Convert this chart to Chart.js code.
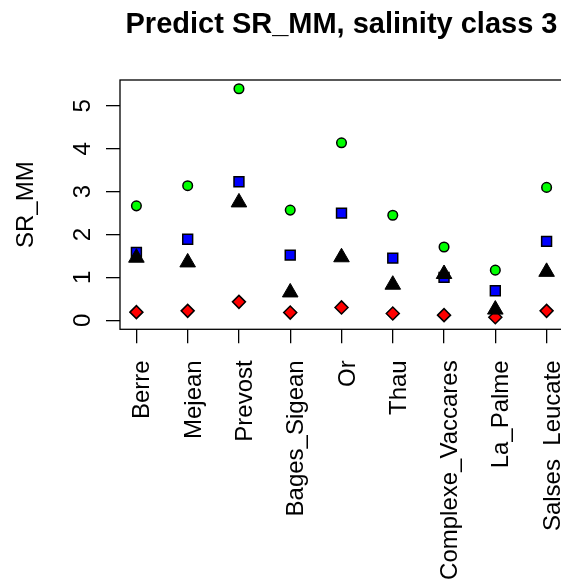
<!DOCTYPE html>
<html>
<head>
<meta charset="utf-8">
<script src="https://cdn.jsdelivr.net/npm/chart.js@4/dist/chart.umd.min.js"></script>
<style>
html, body { margin: 0; padding: 0; background: #fff; overflow: hidden; }
#wrap { width: 561px; height: 583px; overflow: hidden; }
</style>
</head>
<body>
<div id="wrap"><canvas id="chart" width="600" height="583"></canvas></div>
<script>
const chartTitle = 'Predict SR_MM, salinity class 3';
const yLabel = 'SR_MM';
const lagoons = ['Berre', 'Mejean', 'Prevost', 'Bages_Sigean', 'Or', 'Thau', 'Complexe_Vaccares', 'La_Palme', 'Salses_Leucate'];
const srGreen = [2.67, 3.14, 5.40, 2.57, 4.14, 2.45, 1.71, 1.17, 3.10];
const srBlue = [1.58, 1.89, 3.23, 1.52, 2.50, 1.45, 1.00, 0.69, 1.84];
const srBlack = [1.46, 1.35, 2.75, 0.65, 1.47, 0.83, 1.08, 0.25, 1.13];
const srRed = [0.19, 0.22, 0.43, 0.18, 0.30, 0.16, 0.12, 0.07, 0.22];
const yTicks = [0, 1, 2, 3, 4, 5];

const FONT = '"Liberation Sans", Arial, Helvetica, sans-serif';
const toPoints = vals => vals.map((v, i) => ({ x: i + 1, y: v }));

// R-style box, title, rotated axis labels
const rAxes = {
    id: 'rAxes',
    afterDraw(chart) {
        const { ctx, chartArea: a, scales: { x, y } } = chart;
        ctx.save();
        ctx.strokeStyle = '#000';
        ctx.lineWidth = 1.3;
        ctx.strokeRect(a.left, a.top, a.right - a.left, a.bottom - a.top);

        ctx.fillStyle = '#000';
        ctx.textBaseline = 'alphabetic';
        ctx.font = 'bold 29px ' + FONT;
        ctx.textAlign = 'center';
        ctx.fillText(chartTitle, (a.left + a.right) / 2, 33);

        ctx.font = '24px ' + FONT;
        yTicks.forEach(v => {
            ctx.save();
            ctx.translate(a.left - 30, y.getPixelForValue(v));
            ctx.rotate(-Math.PI / 2);
            ctx.textAlign = 'center';
            ctx.fillText(String(v), 0, 0);
            ctx.restore();
        });

        lagoons.forEach((name, i) => {
            ctx.save();
            ctx.translate(x.getPixelForValue(i + 1) + 13, a.bottom + 31);
            ctx.rotate(-Math.PI / 2);
            ctx.textAlign = 'right';
            ctx.fillText(name, 0, 0);
            ctx.restore();
        });

        ctx.save();
        ctx.translate(a.left - 87, (a.top + a.bottom) / 2);
        ctx.rotate(-Math.PI / 2);
        ctx.textAlign = 'center';
        ctx.fillText(yLabel, 0, 0);
        ctx.restore();
        ctx.restore();
    }
};

const tickGrid = { drawOnChartArea: false, drawTicks: true, tickLength: 14, color: '#000', lineWidth: 1.3 };

new Chart(document.getElementById('chart'), {
    type: 'scatter',
    data: {
        datasets: [
            { data: toPoints(srBlack), pointStyle: 'triangle', radius: 9, backgroundColor: '#000', borderColor: '#000', borderWidth: 1, order: 0 },
            { data: toPoints(srRed), pointStyle: 'rectRot', radius: 6.5, backgroundColor: '#ff0000', borderColor: '#000', borderWidth: 1.5, order: 1 },
            { data: toPoints(srBlue), pointStyle: 'rect', radius: 7, backgroundColor: '#0000ff', borderColor: '#000', borderWidth: 1.5, order: 2 },
            { data: toPoints(srGreen), pointStyle: 'circle', radius: 4.8, backgroundColor: '#00ff00', borderColor: '#000', borderWidth: 1.5, order: 3 }
        ]
    },
    options: {
        responsive: false,
        animation: false,
        layout: { padding: { left: 0, top: 80, right: 37, bottom: 223.7 } },
        plugins: { legend: { display: false }, tooltip: { enabled: false }, title: { display: false } },
        scales: {
            x: {
                type: 'linear', min: 0.68, max: 9.32,
                afterBuildTicks: s => { s.ticks = lagoons.map((_, i) => ({ value: i + 1 })); },
                afterFit: s => { s.height = 30; },
                ticks: { display: false },
                grid: tickGrid,
                border: { display: false }
            },
            y: {
                min: -0.21, max: 5.605,
                afterBuildTicks: s => { s.ticks = yTicks.map(v => ({ value: v })); },
                afterFit: s => { s.width = 120; },
                ticks: { display: false },
                grid: tickGrid,
                border: { display: false }
            }
        }
    },
    plugins: [rAxes]
});
</script>
</body>
</html>
